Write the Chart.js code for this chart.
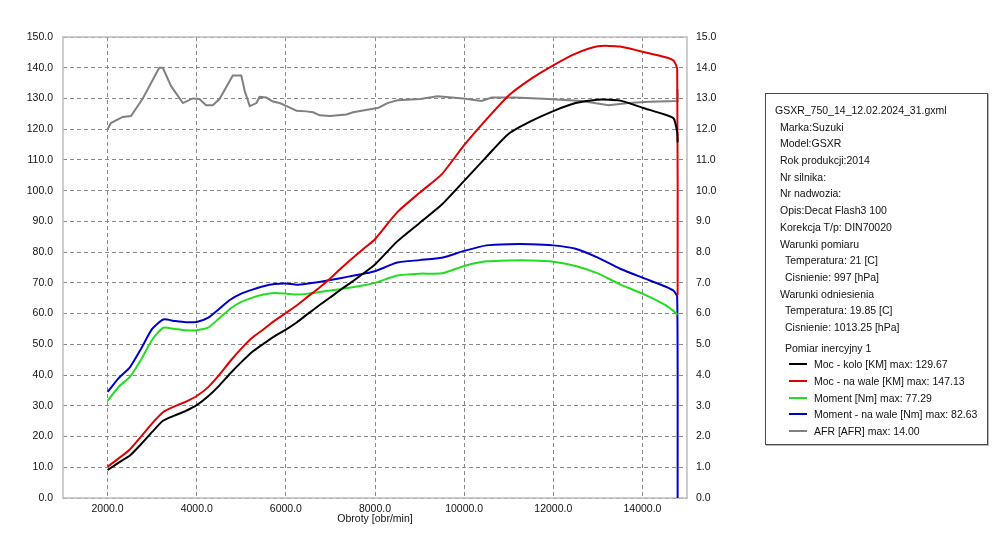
<!DOCTYPE html>
<html>
<head>
<meta charset="utf-8">
<script src="https://cdn.jsdelivr.net/npm/chart.js@4.4.1/dist/chart.umd.min.js"></script>
<style>
    body { margin: 0; background: #fff; }
    #wrap { position: relative; width: 1000px; height: 559px; }
    #info {
        position: absolute; left: 765px; top: 93px; width: 223px; height: 352px;
        border: 1px solid #4a4a4a; box-shadow: 1px 1px 0 #b8b8b8;
        font: 10.5px "Liberation Sans", Arial, sans-serif; color: #111;
        padding-top: 8px; box-sizing: border-box;
    }
    #info div { height: 16.7px; line-height: 16.7px; white-space: nowrap; }
    .l0 { padding-left: 9px; }
    .l1 { padding-left: 14px; }
    .l2 { padding-left: 19px; }
    .gap { margin-top: 4px; }
    .item { position: relative; padding-left: 48px; }
    .item span { position: absolute; left: 23px; top: 7px; width: 18px; height: 2px; }
</style>
</head>
<body>
<div id="wrap">
    <canvas id="dyno-chart" width="1000" height="559"></canvas>
    <div id="info">
        <div class="l0">GSXR_750_14_12.02.2024_31.gxml</div>
        <div class="l1">Marka:Suzuki</div>
        <div class="l1">Model:GSXR</div>
        <div class="l1">Rok produkcji:2014</div>
        <div class="l1">Nr silnika:</div>
        <div class="l1">Nr nadwozia:</div>
        <div class="l1">Opis:Decat Flash3 100</div>
        <div class="l1">Korekcja T/p: DIN70020</div>
        <div class="l1">Warunki pomiaru</div>
        <div class="l2">Temperatura: 21 [C]</div>
        <div class="l2">Cisnienie: 997 [hPa]</div>
        <div class="l1">Warunki odniesienia</div>
        <div class="l2">Temperatura: 19.85 [C]</div>
        <div class="l2">Cisnienie: 1013.25 [hPa]</div>
        <div class="l2 gap">Pomiar inercyjny 1</div>
        <div id="legend-items"></div>
    </div>
</div>
<script>
// Dyno run data

const rpm = [2000, 2250, 2500, 2750, 3000, 3250, 3500, 3750, 4000, 4250, 4500, 4750, 5000,
    5250, 5500, 5750, 6000, 6250, 6500, 6750, 7000, 7250, 7500, 7750, 8000, 8500, 9000, 9500,
    10000, 10500, 11000, 11500, 12000, 12500, 13000, 13500, 14000, 14500, 14700, 14780, 14790];

// Moc - kolo [KM]
const mocKolo = [9.1, 11.5, 13.8, 17.5, 21.5, 25.2, 26.8, 28.3, 30.2, 33.0, 36.5, 40.5, 44.2,
    47.6, 50.2, 52.7, 54.8, 57.2, 60.0, 62.7, 65.3, 68.0, 70.5, 73.2, 76.0, 83.5, 89.5, 95.5,
    103.2, 111.0, 118.5, 122.6, 125.9, 128.5, 129.6, 129.3, 127.0, 124.8, 123.5, 119.0, 115.7];

// Moc - na wale [KM]
const mocWal = [10.2, 12.9, 15.8, 20.0, 24.3, 28.0, 29.8, 31.3, 33.2, 36.0, 40.0, 44.5, 48.6,
    52.2, 54.9, 57.7, 60.2, 62.7, 65.6, 68.4, 71.5, 74.9, 78.1, 81.2, 84.2, 93.0, 99.3, 105.4,
    114.8, 123.2, 131.0, 136.4, 140.8, 144.6, 147.0, 146.9, 145.2, 143.5, 142.3, 139.5, 66.0];

// Moment [Nm]
const moment = [31.6, 36.2, 39.4, 45.0, 51.5, 55.4, 55.0, 54.6, 54.6, 55.4, 58.4, 61.6, 63.8,
    65.2, 66.2, 66.7, 66.5, 66.2, 66.5, 67.0, 67.5, 68.0, 68.6, 69.2, 70.0, 72.4, 73.0, 73.1,
    75.5, 77.0, 77.3, 77.3, 76.9, 75.5, 73.1, 69.5, 66.5, 62.9, 60.8, 59.7, 59.7];

// Moment - na wale [Nm]
const momentWal = [34.5, 39.0, 42.5, 48.5, 55.0, 58.1, 57.6, 57.2, 57.3, 58.6, 61.5, 64.5, 66.5,
    67.8, 68.9, 69.6, 69.8, 69.4, 69.8, 70.3, 70.9, 71.6, 72.3, 73.0, 73.8, 76.6, 77.4, 78.2,
    80.4, 82.2, 82.6, 82.6, 82.2, 81.1, 78.2, 74.6, 71.7, 68.9, 67.4, 65.5, 0.0];

// AFR, right axis
const afrRpm = [2000, 2075, 2340, 2525, 2790, 3160, 3240, 3425, 3690, 3910, 4060, 4210, 4360,
    4510, 4810, 5000, 5076, 5190, 5340, 5410, 5560, 5710, 5860, 6090, 6240, 6460, 6610, 6760,
    6990, 7360, 7510, 7890, 8080, 8280, 8500, 9020, 9400, 9980, 10390, 10620, 11140, 11890,
    12640, 13240, 13690, 14150, 14780, 14790];
const afr = [12.0, 12.2, 12.4, 12.43, 13.0, 14.0, 14.0, 13.4, 12.85, 13.0, 12.98, 12.78, 12.78,
    12.98, 13.75, 13.75, 13.25, 12.75, 12.85, 13.05, 13.03, 12.9, 12.85, 12.7, 12.6, 12.58, 12.55,
    12.45, 12.43, 12.48, 12.55, 12.65, 12.7, 12.85, 12.94, 12.98, 13.07, 13.0, 12.92, 13.03, 13.03,
    12.98, 12.92, 12.78, 12.85, 12.89, 12.92, 13.3];

const seriesLabels = ['Moc - kolo [KM]', 'Moc - na wale [KM]', 'Moment [Nm]', 'Moment - na wale [Nm]', 'AFR [AFR]'];
const seriesMax = [129.67, 147.13, 77.29, 82.63, 14.00];
const seriesColors = ['#000000', '#e00000', '#22dd22', '#0000c8', '#808080'];

const xTicks = [2000, 4000, 6000, 8000, 10000, 12000, 14000];
const xTitle = 'Obroty [obr/min]';

const FONT = { family: '"Liberation Sans", Arial, sans-serif', size: 10.5 };

function toPoints(xs, ys) {
    return xs.map((x, i) => ({ x: x, y: ys[i] }));
}

// Light grey frame around the plot area
const plotFrame = {
    id: 'plotFrame',
    beforeDatasetsDraw(chart) {
        const a = chart.chartArea;
        const ctx = chart.ctx;
        ctx.save();
        ctx.strokeStyle = '#bdbdbd';
        ctx.lineWidth = 1.5;
        ctx.strokeRect(a.left, a.top, a.right - a.left, a.bottom - a.top);
        ctx.restore();
    }
};

function renderLegend() {
    const box = document.getElementById('legend-items');
    seriesLabels.forEach((label, i) => {
        const row = document.createElement('div');
        row.className = 'item';
        row.innerHTML = '<span style="background:' + seriesColors[i] + '"></span>' +
            label + ' max: ' + seriesMax[i].toFixed(2);
        box.appendChild(row);
    });
}

function renderChart() {
    const valueSets = [mocKolo, mocWal, moment, momentWal];
    const datasets = valueSets.map((vals, i) => ({
        label: seriesLabels[i],
        data: toPoints(rpm, vals),
        borderColor: seriesColors[i],
        borderWidth: 2,
        pointRadius: 0,
        tension: 0.2,
        yAxisID: 'y'
    }));
    datasets.push({
        label: seriesLabels[4],
        data: toPoints(afrRpm, afr),
        borderColor: seriesColors[4],
        borderWidth: 2,
        pointRadius: 0,
        tension: 0,
        yAxisID: 'y1'
    });

    new Chart(document.getElementById('dyno-chart'), {
        type: 'line',
        data: { datasets: datasets },
        options: {
            responsive: false,
            animation: false,
            devicePixelRatio: 1,
            layout: { padding: { top: 37, right: 263, left: 0, bottom: 0 } },
            plugins: {
                legend: { display: false },
                tooltip: { enabled: false }
            },
            scales: {
                x: {
                    type: 'linear',
                    min: 1000,
                    max: 15000,
                    afterBuildTicks: axis => { axis.ticks = xTicks.map(v => ({ value: v })); },
                    afterFit: axis => { axis.height = 61; },
                    ticks: {
                        font: FONT,
                        color: '#111',
                        padding: 5,
                        maxRotation: 0,
                        autoSkip: false,
                        callback: v => v.toFixed(1)
                    },
                    grid: { color: '#8a8a8a', lineWidth: 1, drawTicks: false },
                    border: { display: false, dash: [4, 3] },
                    title: {
                        display: true,
                        text: xTitle,
                        font: FONT,
                        color: '#111',
                        padding: { top: 0, bottom: 34 }
                    }
                },
                y: {
                    position: 'left',
                    min: 0,
                    max: 150,
                    afterFit: axis => { axis.width = 63; },
                    ticks: {
                        stepSize: 10,
                        font: FONT,
                        color: '#111',
                        padding: 10,
                        callback: v => v.toFixed(1)
                    },
                    grid: { color: '#8a8a8a', lineWidth: 1, drawTicks: false },
                    border: { display: false, dash: [4, 3] }
                },
                y1: {
                    position: 'right',
                    min: 0,
                    max: 15,
                    afterFit: axis => { axis.width = 50; },
                    ticks: {
                        stepSize: 1,
                        font: FONT,
                        color: '#111',
                        padding: 9,
                        callback: v => v.toFixed(1)
                    },
                    grid: { drawOnChartArea: false, drawTicks: false },
                    border: { display: false }
                }
            }
        },
        plugins: [plotFrame]
    });
}

document.addEventListener('DOMContentLoaded', function () {
    renderLegend();
    renderChart();
});
</script>
</body>
</html>
